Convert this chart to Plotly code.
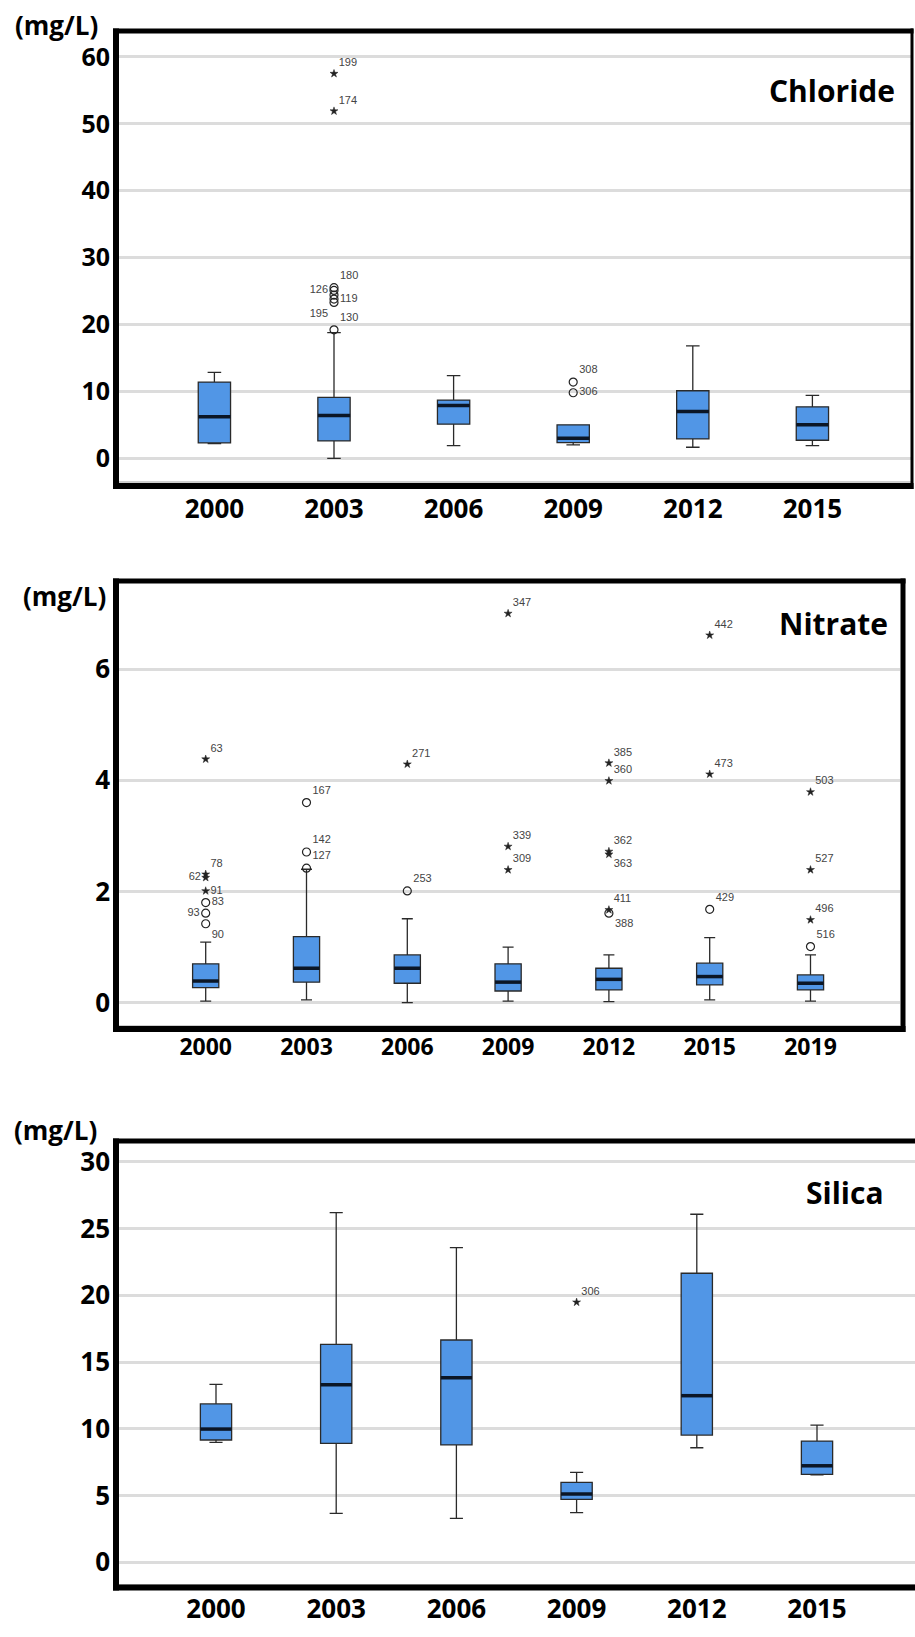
import plotly.graph_objects as go

# ---------------- DATA ----------------
# Chloride
cl_years = ["2000", "2003", "2006", "2009", "2012", "2015"]
cl_lower = [2.2, 0.0, 1.9, 2.0, 1.65, 1.9]
cl_q1 = [2.3, 2.6, 5.1, 2.35, 2.9, 2.7]
cl_median = [6.2, 6.4, 7.9, 3.0, 7.0, 5.0]
cl_q3 = [11.4, 9.1, 8.7, 5.0, 10.1, 7.7]
cl_upper = [12.85, 18.8, 12.35, 5.0, 16.8, 9.4]
cl_out_idx = [1, 1, 1, 1, 1, 1, 1, 1, 3, 3]
cl_out_val = [57.5, 51.9, 25.5, 25.1, 24.4, 23.8, 23.3, 19.2, 11.4, 9.8]
cl_out_kind = ["star", "star", "circle", "circle", "circle", "circle", "circle", "circle", "circle", "circle"]
cl_out_label = ["199", "174", "180", "126", "", "119", "195", "130", "308", "306"]
cl_out_pos = ["top right", "top right", "top right", "middle left", "middle right", "middle right",
              "bottom left", "top right", "top right", "middle right"]

# Nitrate
ni_years = ["2000", "2003", "2006", "2009", "2012", "2015", "2019"]
ni_lower = [0.03, 0.05, 0.0, 0.03, 0.02, 0.05, 0.03]
ni_q1 = [0.27, 0.37, 0.35, 0.21, 0.23, 0.32, 0.23]
ni_median = [0.39, 0.62, 0.62, 0.37, 0.42, 0.47, 0.35]
ni_q3 = [0.70, 1.19, 0.86, 0.70, 0.62, 0.71, 0.50]
ni_upper = [1.09, 2.40, 1.51, 1.00, 0.86, 1.17, 0.86]
ni_out_idx = [0, 0, 0, 0, 0, 0, 0,
              1, 1, 1,
              2, 2,
              3, 3, 3,
              4, 4, 4, 4, 4, 4,
              5, 5, 5,
              6, 6, 6, 6]
ni_out_val = [4.38, 2.31, 2.25, 2.01, 1.80, 1.61, 1.42,
              3.60, 2.71, 2.42,
              4.29, 2.01,
              7.00, 2.81, 2.39,
              4.31, 3.99, 2.72, 2.67, 1.67, 1.61,
              6.61, 4.11, 1.68,
              3.79, 2.39, 1.49, 1.01]
ni_out_kind = ["star", "star", "star", "star", "circle", "circle", "circle",
               "circle", "circle", "circle",
               "star", "circle",
               "star", "star", "star",
               "star", "star", "star", "star", "star", "circle",
               "star", "star", "circle",
               "star", "star", "star", "circle"]
ni_out_label = ["63", "78", "62", "91", "83", "93", "90",
                "167", "142", "127",
                "271", "253",
                "347", "339", "309",
                "385", "360", "362", "363", "411", "388",
                "442", "473", "429",
                "503", "527", "496", "516"]
ni_out_pos = ["top right", "top right", "middle left", "middle right", "middle right", "middle left", "bottom right",
              "top right", "top right", "top right",
              "top right", "top right",
              "top right", "top right", "top right",
              "top right", "top right", "top right", "bottom right", "top right", "bottom right",
              "top right", "top right", "top right",
              "top right", "top right", "top right", "top right"]

# Silica
si_years = ["2000", "2003", "2006", "2009", "2012", "2015"]
si_lower = [8.99, 3.67, 3.29, 3.72, 8.58, 6.55]
si_q1 = [9.16, 8.91, 8.79, 4.72, 9.53, 6.59]
si_median = [9.98, 13.3, 13.83, 5.12, 12.48, 7.23]
si_q3 = [11.86, 16.33, 16.65, 5.99, 21.65, 9.08]
si_upper = [13.33, 26.2, 23.57, 6.74, 26.07, 10.28]
si_out_idx = [3]
si_out_val = [19.48]
si_out_kind = ["star"]
si_out_label = ["306"]
si_out_pos = ["top right"]

cl_ticks = [0, 10, 20, 30, 40, 50, 60]
ni_ticks = [0, 2, 4, 6]
si_ticks = [0, 5, 10, 15, 20, 25, 30]

# ---------------- STYLE / LAYOUT ----------------
W, H = 915, 1637
BOX_FILL = "#5196e6"
BOX_LINE = "#2a2a2a"
MED_COLOR = "#0b1626"
GRID = "#dcdcdc"
FONT = "Open Sans"


def px(x):
    return x / W


def py(y):
    return 1 - y / H


fig = go.Figure()

panels = [
    dict(name="Chloride", years=cl_years, lo=cl_lower, q1=cl_q1, med=cl_median, q3=cl_q3, hi=cl_upper,
         oi=cl_out_idx, ov=cl_out_val, ok=cl_out_kind, ol=cl_out_label, op=cl_out_pos, ticks=cl_ticks,
         x_left=119, x_right=911, y_top=34, y_bot=481, x0_px=214.4, x_step=119.6,
         y0_px=458.3, y_per=6.69, bw=0.27,
         frame=dict(left=116, top=31, bot=486, right=912, rw=3),
         unit=(56, 25), title=(832, 90), tick_size=25, year_size=26, xstand=4),
    dict(name="Nitrate", years=ni_years, lo=ni_lower, q1=ni_q1, med=ni_median, q3=ni_q3, hi=ni_upper,
         oi=ni_out_idx, ov=ni_out_val, ok=ni_out_kind, ol=ni_out_label, op=ni_out_pos, ticks=ni_ticks,
         x_left=119, x_right=900, y_top=584, y_bot=1025, x0_px=205.7, x_step=100.8,
         y0_px=1002.7, y_per=55.6, bw=0.26,
         frame=dict(left=116, top=581, bot=1029, right=903, rw=5),
         unit=(64, 596), title=(833, 623), tick_size=26, year_size=23, xstand=0),
    dict(name="Silica", years=si_years, lo=si_lower, q1=si_q1, med=si_median, q3=si_q3, hi=si_upper,
         oi=si_out_idx, ov=si_out_val, ok=si_out_kind, ol=si_out_label, op=si_out_pos, ticks=si_ticks,
         x_left=119, x_right=915, y_top=1144, y_bot=1584, x0_px=216, x_step=120.2,
         y0_px=1562.3, y_per=13.35, bw=0.26,
         frame=dict(left=116, top=1141, bot=1587.5, right=None, rw=0),
         unit=(55, 1130), title=(845, 1192), tick_size=26, year_size=26, xstand=1),
]

shapes = []
annotations = []

for k, p in enumerate(panels):
    n = k + 1
    xa = "x" if n == 1 else f"x{n}"
    ya = "y" if n == 1 else f"y{n}"
    xkey = "xaxis" if n == 1 else f"xaxis{n}"
    ykey = "yaxis" if n == 1 else f"yaxis{n}"
    idx = list(range(len(p["years"])))

    fig.add_trace(go.Box(
        x=idx, q1=p["q1"], median=p["med"], q3=p["q3"],
        lowerfence=p["lo"], upperfence=p["hi"],
        width=p["bw"], whiskerwidth=0.42,
        fillcolor=BOX_FILL, line=dict(color=BOX_LINE, width=1.3),
        boxpoints=False, xaxis=xa, yaxis=ya, hoverinfo="skip",
    ))

    # thick median bars
    mx, my = [], []
    for i, m in zip(idx, p["med"]):
        mx += [i - p["bw"] / 2, i + p["bw"] / 2, None]
        my += [m, m, None]
    fig.add_trace(go.Scatter(x=mx, y=my, mode="lines", line=dict(color=MED_COLOR, width=3.5),
                             xaxis=xa, yaxis=ya, hoverinfo="skip"))

    # outliers
    for kind, sym, size, lw in [("circle", "circle-open", 8, 1.2), ("star", "star", 6, 0.5)]:
        sel = [j for j, kk in enumerate(p["ok"]) if kk == kind]
        if not sel:
            continue
        fig.add_trace(go.Scatter(
            x=[p["oi"][j] for j in sel], y=[p["ov"][j] for j in sel],
            mode="markers+text",
            text=[p["ol"][j] for j in sel],
            textposition=[p["op"][j] for j in sel],
            textfont=dict(family="Liberation Sans Narrow, Liberation Sans, Arial", size=11, color="#444444"),
            marker=dict(symbol=sym, size=size, color="#222222", line=dict(color="#222222", width=lw)),
            xaxis=xa, yaxis=ya, hoverinfo="skip", cliponaxis=False,
        ))

    # ranges from pixel calibration
    xr = [(p["x_left"] - p["x0_px"]) / p["x_step"], (p["x_right"] - p["x0_px"]) / p["x_step"]]
    yr = [(p["y0_px"] - p["y_bot"]) / p["y_per"], (p["y0_px"] - p["y_top"]) / p["y_per"]]

    fig.update_layout(**{
        xkey: dict(domain=[px(p["x_left"]), px(p["x_right"])], anchor=ya, range=xr,
                   tickmode="array", tickvals=idx, ticktext=p["years"],
                   tickfont=dict(family=FONT, size=p["year_size"], color="black", weight="bold"),
                   showgrid=False, zeroline=False, showline=True, linecolor="#cfcfcf", linewidth=2,
                   ticks="", ticklabelstandoff=p["xstand"], fixedrange=True),
        ykey: dict(domain=[py(p["y_bot"]), py(p["y_top"])], anchor=xa, range=yr,
                   tickmode="array", tickvals=p["ticks"],
                   tickfont=dict(family=FONT, size=p["tick_size"], color="black", weight="bold"),
                   showgrid=True, gridcolor=GRID, gridwidth=2.5, zeroline=False, showline=False,
                   ticks="", ticklabelstandoff=8, fixedrange=True),
    })

    f = p["frame"]
    right_edge = f["right"] + f["rw"] / 2 if f["right"] else W + 5
    shapes.append(dict(type="line", xref="paper", yref="paper", x0=px(f["left"]), x1=px(f["left"]),
                       y0=py(f["top"] - 2.5), y1=py(f["bot"] + 3), line=dict(color="black", width=6)))
    shapes.append(dict(type="line", xref="paper", yref="paper", x0=px(f["left"] - 3), x1=px(right_edge),
                       y0=py(f["top"]), y1=py(f["top"]), line=dict(color="black", width=5)))
    shapes.append(dict(type="line", xref="paper", yref="paper", x0=px(f["left"] - 3), x1=px(right_edge),
                       y0=py(f["bot"]), y1=py(f["bot"]), line=dict(color="black", width=6)))
    if f["right"]:
        shapes.append(dict(type="line", xref="paper", yref="paper", x0=px(f["right"]), x1=px(f["right"]),
                           y0=py(f["top"] - 2.5), y1=py(f["bot"] + 3), line=dict(color="black", width=f["rw"])))

    annotations.append(dict(text="(mg/L)", xref="paper", yref="paper", x=px(p["unit"][0]), y=py(p["unit"][1]),
                            xanchor="center", yanchor="middle", showarrow=False,
                            font=dict(family=FONT, size=26, color="black", weight="bold")))
    annotations.append(dict(text=p["name"], xref="paper", yref="paper", x=px(p["title"][0]), y=py(p["title"][1]),
                            xanchor="center", yanchor="middle", showarrow=False,
                            font=dict(family=FONT, size=30, color="black", weight="bold")))

fig.update_layout(
    width=W, height=H, margin=dict(l=0, r=0, t=0, b=0),
    paper_bgcolor="white", plot_bgcolor="white", showlegend=False,
    shapes=shapes, annotations=annotations,
)

fig.write_html("out.html")
